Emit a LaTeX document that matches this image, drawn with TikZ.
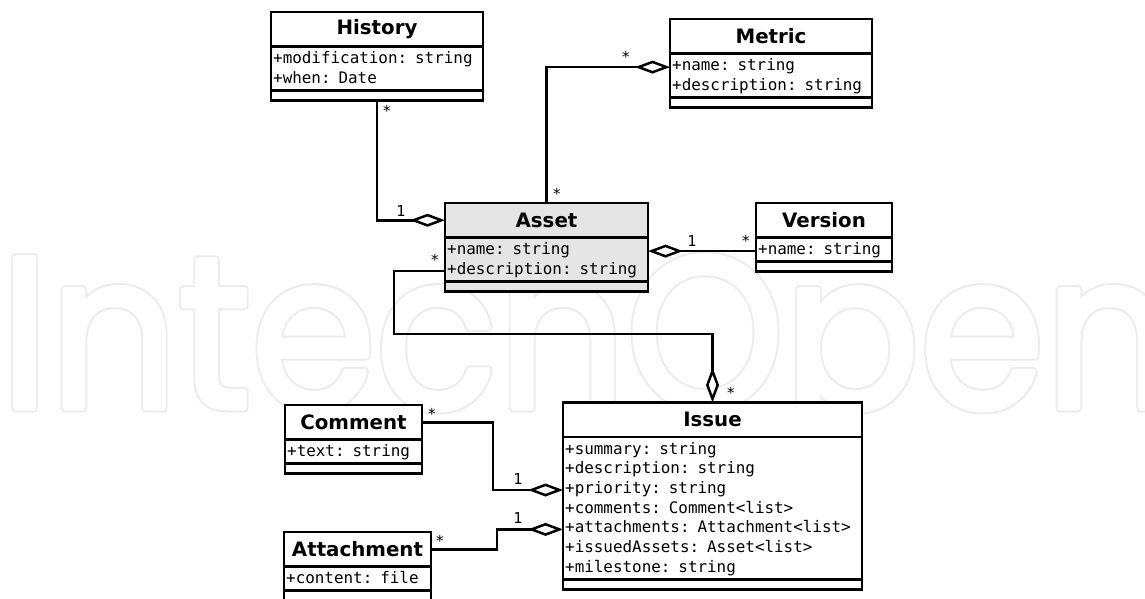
\documentclass[tikz,border=0pt]{standalone}
\usepackage{fontspec}
\usetikzlibrary{arrows.meta,calc}
\newfontfamily\attrfont{DejaVu Sans Mono}
\newfontfamily\headfont{DejaVu Sans}
\newfontfamily\wmfont{Poppins}
\definecolor{assetgray}{RGB}{229,229,229}
\definecolor{wmgray}{RGB}{236,236,236}

\tikzset{
  umlline/.style={line width=2.5pt},
  classtitle/.style={draw, umlline, inner sep=0pt, outer sep=0pt, minimum height=34.5pt,
    font=\headfont\bfseries\fontsize{19.8}{21}\selectfont},
  classbox/.style={draw, umlline, inner sep=0pt, outer sep=0pt},
  attrrow/.style={inner xsep=2.2pt, inner ysep=0pt, outer sep=0pt, text height=11pt, text depth=4pt,
    align=left, font=\attrfont\fontsize{15.9}{19.7}\selectfont},
  mult/.style={inner sep=0pt, anchor=base, font=\attrfont\fontsize{15}{15}\selectfont},
  agg/.style={umlline, line join=miter},
  aggend/.style={agg, -{Diamond[fill=white, length=35pt, width=13pt]}},
  aggstart/.style={agg, {Diamond[fill=white, length=35pt, width=13pt]}-},
  wm/.style={inner sep=0pt, outer sep=0pt, anchor=base west, xscale=0.93,
    font=\wmfont\fontsize{216}{216}\selectfont},
}

% #1 fill, #2 name, #3 top left corner, #4 width, #5 class name,
% #6 number of attributes, #7 attribute list
\newcommand\umlclass[7][white]{%
  \pgfmathsetmacro\rowtw{#4-4.4}%
  \pgfmathsetmacro\attrh{#6*19.7+4.5}%
  \node[classtitle, fill=#1, minimum width=#4pt, anchor=north west] (#2-t) at (#3) {#5};
  \node[classbox, fill=#1, minimum width=#4pt, minimum height=\attrh pt, anchor=north west]
    (#2-a) at (#2-t.south west) {};
  \node[classbox, fill=#1, minimum width=#4pt, minimum height=10pt, anchor=north west]
    (#2-o) at (#2-a.south west) {};
  \foreach \r [count=\i] in {#7} {
    \node[attrrow, text width=\rowtw pt, anchor=west] (#2-\i)
      at ($(#2-a.north west)+(0,{13.6+(\i-1)*19.7})$) {\r};
  }
}

\begin{document}
\begin{tikzpicture}[x=1pt, y=-1pt]
\path[use as bounding box, fill=white] (0,0) rectangle (1145,599);

% outlined publisher mark in the background
\node[wm, text=wmgray] (wm-back) at (0,408)
  {\special{pdf:literal direct 2 Tr 9 w 1 j}IntechOpen\special{pdf:literal direct 0 Tr}};
\node[wm, text=white] (wm-front) at (0,408)
  {\special{pdf:literal direct 2 Tr 5 w 1 j}IntechOpen\special{pdf:literal direct 0 Tr}};

% classes
\umlclass{hist}{271,12}{212}{History}{2}{+modification: string,+when: Date}
\umlclass{metric}{670,19}{202}{Metric}{2}{+name: string,+description: string}
\umlclass[assetgray]{asset}{445,203}{203}{Asset}{2}{+name: string,+description: string}
\umlclass{version}{756,203}{136}{Version}{1}{+name: string}
\umlclass{comment}{285,405}{137}{Comment}{1}{+text: string}
\umlclass{attach}{284,532}{147}{Attachment}{1}{+content: file}
\umlclass{issue}{563,402.5}{299}{Issue}{7}{+summary: string,+description: string,+priority: string,+comments: Comment<list>,+attachments: Attachment<list>,+issuedAssets: Asset<list>,+milestone: string}

% aggregations
\draw[aggend] (hist-o.south) |- (asset-t.west);
\draw[aggend] (asset-t.north) |- (metric-1.west);
\draw[aggstart] (asset-1.east) -- (version-1.west);
\coordinate (assetbend) at (394,334);
\draw[aggend] (asset-2.west) -| (assetbend) -| (issue-t.north);
\draw[aggend] (comment-t.east) -- ++(71,0) |- (issue-3.west);
\draw[aggend] (attach-t.east) -- ++(66,0) |- (issue-5.west);

% multiplicities
\node[mult] (m-hist) at ($(hist-o.south)+(10,16)$) {*};
\node[mult] (m-asset-h) at ($(asset-t.west)+(-44,-4.25)$) {1};
\node[mult] (m-asset-m) at ($(asset-t.north)+(10.5,-4)$) {*};
\node[mult] (m-metric) at ($(metric-1.west)+(-44,-5)$) {*};
\node[mult] (m-asset-v) at ($(asset-1.east)+(44,-5)$) {1};
\node[mult] (m-version) at ($(version-1.west)+(-10,-5)$) {*};
\node[mult] (m-asset-i) at ($(asset-2.west)+(-10,-5.5)$) {*};
\node[mult] (m-issue-a) at ($(issue-t.north)+(18.5,-4.5)$) {*};
\node[mult] (m-comment) at ($(comment-t.east)+(10,-3.25)$) {*};
\node[mult] (m-issue-c) at ($(issue-3.west)+(-45,-6)$) {1};
\node[mult] (m-attach) at ($(attach-t.east)+(9,-3.25)$) {*};
\node[mult] (m-issue-t) at ($(issue-5.west)+(-45,-5.5)$) {1};
\end{tikzpicture}
\end{document}
